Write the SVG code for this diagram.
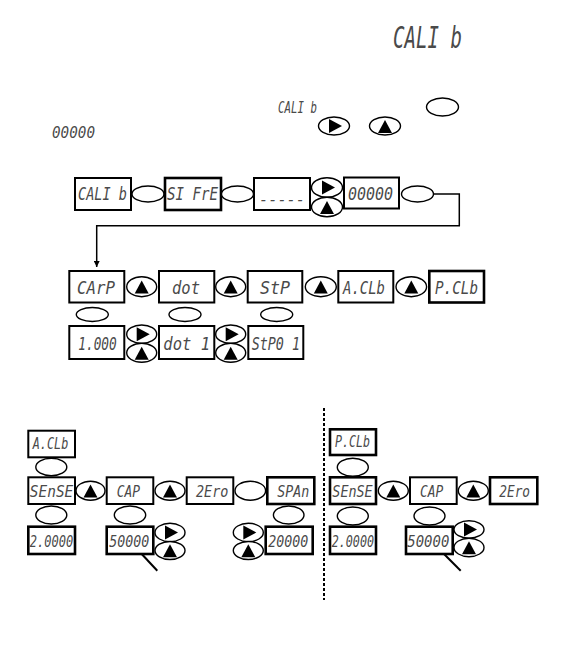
<svg xmlns="http://www.w3.org/2000/svg" width="567" height="652" viewBox="0 0 567 652">
<style>
.bx{fill:#fff;stroke:#000;stroke-width:2}
.bt{stroke-width:2.6}
.ov{fill:#fff;stroke:#000;stroke-width:1.4}
.seg{font-family:"DejaVu Sans Mono","Liberation Mono",monospace;font-style:italic;fill:#4a4a4a;text-anchor:start}
.s17{font-size:18.5px}
.s15{font-size:15.5px}
.ln{fill:none;stroke:#000;stroke-width:1.5}
</style>
<defs>
<polygon id="tu" points="-7,6 7,6 0,-7" fill="#000"/>
<polygon id="tr" points="-5,-7 -5,7 8,0" fill="#000"/>
<marker id="ah" viewBox="0 0 10 10" refX="10" refY="5" markerWidth="6" markerHeight="6" orient="auto" markerUnits="userSpaceOnUse"><path d="M0,0 L10,5 L0,10 z" fill="#000"/></marker>
</defs>
<rect width="567" height="652" fill="#fff"/>

<!-- top texts -->
<g id="title"><text class="seg" x="393" y="48.3" font-size="29.5" textLength="69" lengthAdjust="spacingAndGlyphs">CALI b</text></g>
<g id="intro">
<text class="seg" x="278" y="112.7" font-size="15.5" textLength="39" lengthAdjust="spacingAndGlyphs">CALI b</text>
<ellipse class="ov" cx="442.5" cy="107" rx="16" ry="9"/>
<ellipse class="ov" cx="334" cy="126" rx="15.5" ry="9"/><use href="#tr" x="334" y="126"/>
<ellipse class="ov" cx="385" cy="126" rx="15.5" ry="9"/><use href="#tu" x="385" y="127"/>
<text class="seg" x="52" y="138.3" font-size="15.5" textLength="43" lengthAdjust="spacingAndGlyphs">00000</text>
</g>

<!-- connectors -->
<g id="connectors">
<path class="ln" d="M433.5,194 H459.3 V225.7 H96.7 V267" marker-end="url(#ah)"/>
<line x1="141.7" y1="554" x2="157.3" y2="570.7" stroke="#000" stroke-width="2"/>
<line x1="444" y1="554" x2="460.7" y2="570.7" stroke="#000" stroke-width="2"/>
<line x1="324" y1="408" x2="324" y2="600" stroke="#000" stroke-width="2" stroke-dasharray="3,2"/>
</g>

<!-- row 1 -->
<g id="n-calib"><rect class="bx" x="75" y="178" width="56" height="32"/><text class="seg s17" x="78" y="200" textLength="49" lengthAdjust="spacingAndGlyphs">CALI b</text></g>
<g id="o1"><ellipse class="ov" cx="148" cy="194" rx="16" ry="8"/></g>
<g id="n-sifre"><rect class="bx bt" x="165" y="178" width="56" height="32"/><text class="seg s17" x="167" y="200" textLength="51" lengthAdjust="spacingAndGlyphs">SI FrE</text></g>
<g id="o2"><ellipse class="ov" cx="237.5" cy="194" rx="16" ry="8"/></g>
<g id="n-dash"><rect class="bx" x="254" y="178" width="56" height="32"/><text class="seg s17" x="259" y="204.5" textLength="46" lengthAdjust="spacingAndGlyphs">-----</text></g>
<g id="b1"><ellipse class="ov" cx="327" cy="187.5" rx="15.5" ry="9.8"/><use href="#tr" x="327" y="187.5"/><ellipse class="ov" cx="327" cy="207" rx="15.5" ry="9.8"/><use href="#tu" x="327" y="208"/></g>
<g id="n-zero"><rect class="bx" x="344" y="177.5" width="55" height="31"/><text class="seg s17" x="348" y="199.5" textLength="45" lengthAdjust="spacingAndGlyphs">00000</text></g>
<g id="o3"><ellipse class="ov" cx="417.5" cy="194" rx="16" ry="8"/></g>

<!-- row 2 -->
<g id="n-carp"><rect class="bx" x="69.3" y="271" width="55" height="31.5"/><text class="seg s17" x="77" y="293.5" textLength="38" lengthAdjust="spacingAndGlyphs">CArP</text></g>
<g id="u1"><ellipse class="ov" cx="141.7" cy="286.7" rx="15" ry="10"/><use href="#tu" x="141.7" y="287.5"/></g>
<g id="n-dot"><rect class="bx" x="159" y="271" width="55.3" height="31.5"/><text class="seg s17" x="172" y="293.5" textLength="28" lengthAdjust="spacingAndGlyphs">dot</text></g>
<g id="u2"><ellipse class="ov" cx="230.7" cy="286.7" rx="15" ry="10"/><use href="#tu" x="230.7" y="287.5"/></g>
<g id="n-stp"><rect class="bx" x="247.7" y="271" width="54.6" height="31.5"/><text class="seg s17" x="260" y="293.5" textLength="30" lengthAdjust="spacingAndGlyphs">StP</text></g>
<g id="u3"><ellipse class="ov" cx="320.8" cy="286.7" rx="15.5" ry="10"/><use href="#tu" x="320.8" y="287.5"/></g>
<g id="n-aclb"><rect class="bx" x="338.3" y="271" width="55" height="31.5"/><text class="seg s17" x="343" y="293.5" textLength="42" lengthAdjust="spacingAndGlyphs">A.CLb</text></g>
<g id="u4"><ellipse class="ov" cx="411.3" cy="286.7" rx="15.3" ry="10"/><use href="#tu" x="411.3" y="287.5"/></g>
<g id="n-pclb"><rect class="bx bt" x="429.3" y="271" width="54.7" height="31.5"/><text class="seg s17" x="435" y="293.5" textLength="43" lengthAdjust="spacingAndGlyphs">P.CLb</text></g>

<g id="o4"><ellipse class="ov" cx="92.3" cy="314.5" rx="16" ry="7"/></g>
<g id="o5"><ellipse class="ov" cx="185" cy="314.5" rx="16" ry="7"/></g>
<g id="o6"><ellipse class="ov" cx="276.7" cy="314.5" rx="16" ry="7"/></g>

<!-- row 3 -->
<g id="n-1000"><rect class="bx" x="69.3" y="326" width="55" height="33"/><text class="seg s17" x="78.3" y="349.5" textLength="38.4" lengthAdjust="spacingAndGlyphs">1.000</text></g>
<g id="b2"><ellipse class="ov" cx="141.7" cy="334.2" rx="15" ry="9.2"/><use href="#tr" x="141.7" y="334.2"/><ellipse class="ov" cx="141.7" cy="352.8" rx="15" ry="9.5"/><use href="#tu" x="141.7" y="353.8"/></g>
<g id="n-dot1"><rect class="bx" x="159" y="326" width="55.3" height="33"/><text class="seg s17" x="163.3" y="349.5" textLength="46.7" lengthAdjust="spacingAndGlyphs">dot  1</text></g>
<g id="b3"><ellipse class="ov" cx="230.7" cy="334.2" rx="15" ry="9.2"/><use href="#tr" x="230.7" y="334.2"/><ellipse class="ov" cx="230.7" cy="352.8" rx="15" ry="9.5"/><use href="#tu" x="230.7" y="353.8"/></g>
<g id="n-stp01"><rect class="bx" x="248.3" y="326" width="55" height="33"/><text class="seg s17" x="251.7" y="349.5" textLength="48.3" lengthAdjust="spacingAndGlyphs">StP0 1</text></g>

<!-- bottom left -->
<g id="n-aclb2"><rect class="bx" x="28.3" y="430.7" width="46.7" height="26.6"/><text class="seg s15" x="32.7" y="448.5" textLength="35.6" lengthAdjust="spacingAndGlyphs">A.CLb</text></g>
<g id="o7"><ellipse class="ov" cx="51.3" cy="467" rx="15.5" ry="8.8"/></g>
<g id="n-sense1"><rect class="bx" x="28.3" y="477.3" width="46.7" height="26.7"/><text class="seg s15" x="29.8" y="497" textLength="43.5" lengthAdjust="spacingAndGlyphs">SEnSE</text></g>
<g id="u5"><ellipse class="ov" cx="90.5" cy="490.7" rx="14.5" ry="9.5"/><use href="#tu" x="90.5" y="491.5"/></g>
<g id="n-cap1"><rect class="bx" x="106.7" y="477.3" width="46.6" height="26.7"/><text class="seg s15" x="116.7" y="497" textLength="23.3" lengthAdjust="spacingAndGlyphs">CAP</text></g>
<g id="u6"><ellipse class="ov" cx="170" cy="490.7" rx="15" ry="9.5"/><use href="#tu" x="170" y="491.5"/></g>
<g id="n-zero1"><rect class="bx" x="186.7" y="477.3" width="46.6" height="26.7"/><text class="seg s15" x="196" y="497" textLength="32.3" lengthAdjust="spacingAndGlyphs">2Ero</text></g>
<g id="o8"><ellipse class="ov" cx="250.3" cy="490.7" rx="15.3" ry="9.5"/></g>
<g id="n-span"><rect class="bx bt" x="267.3" y="477.3" width="47" height="26.7"/><text class="seg s15" x="277.3" y="497" textLength="32" lengthAdjust="spacingAndGlyphs">SPAn</text></g>

<g id="o9"><ellipse class="ov" cx="51.3" cy="515" rx="15.5" ry="9"/></g>
<g id="o10"><ellipse class="ov" cx="130" cy="515" rx="15.7" ry="9"/></g>
<g id="o11"><ellipse class="ov" cx="288.7" cy="515" rx="15.3" ry="9"/></g>

<g id="n-2p"><rect class="bx bt" x="28.3" y="526.7" width="46.7" height="27.3"/><text class="seg s15" x="29.8" y="547" textLength="43.5" lengthAdjust="spacingAndGlyphs">2.0000</text></g>
<g id="n-5k1"><rect class="bx bt" x="106.7" y="526.7" width="46.6" height="27.3"/><text class="seg s15" x="109.3" y="547" textLength="40" lengthAdjust="spacingAndGlyphs">50000</text></g>
<g id="b4"><ellipse class="ov" cx="170" cy="532.5" rx="15" ry="9.2"/><use href="#tr" x="170" y="532.5"/><ellipse class="ov" cx="170" cy="550.5" rx="15" ry="9"/><use href="#tu" x="170" y="551.3"/></g>
<g id="b5"><ellipse class="ov" cx="248.3" cy="532.5" rx="15" ry="9.2"/><use href="#tr" x="248.3" y="532.5"/><ellipse class="ov" cx="248.3" cy="550.5" rx="15" ry="9"/><use href="#tu" x="248.3" y="551.3"/></g>
<g id="n-20k"><rect class="bx bt" x="265.7" y="526.7" width="47" height="27.3"/><text class="seg s15" x="268.3" y="547" textLength="40" lengthAdjust="spacingAndGlyphs">20000</text></g>

<!-- bottom right -->
<g id="n-pclb2"><rect class="bx bt" x="330" y="429.3" width="46" height="25.7"/><text class="seg s15" x="335" y="447" textLength="35" lengthAdjust="spacingAndGlyphs">P.CLb</text></g>
<g id="o12"><ellipse class="ov" cx="352.8" cy="467.3" rx="15.5" ry="9"/></g>
<g id="n-sense2"><rect class="bx bt" x="330" y="477.3" width="46" height="26.7"/><text class="seg s15" x="332.3" y="497" textLength="40.4" lengthAdjust="spacingAndGlyphs">SEnSE</text></g>
<g id="u7"><ellipse class="ov" cx="393.3" cy="490.7" rx="15" ry="9.5"/><use href="#tu" x="393.3" y="491.5"/></g>
<g id="n-cap2"><rect class="bx" x="410" y="477.3" width="46.7" height="26.7"/><text class="seg s15" x="420" y="497" textLength="23.3" lengthAdjust="spacingAndGlyphs">CAP</text></g>
<g id="u8"><ellipse class="ov" cx="473.3" cy="490.7" rx="15" ry="9.5"/><use href="#tu" x="473.3" y="491.5"/></g>
<g id="n-zero2"><rect class="bx bt" x="490" y="477.3" width="47.3" height="26.7"/><text class="seg s15" x="499.3" y="497" textLength="30.7" lengthAdjust="spacingAndGlyphs">2Ero</text></g>

<g id="o13"><ellipse class="ov" cx="352.8" cy="516" rx="15.5" ry="9"/></g>
<g id="o14"><ellipse class="ov" cx="429.5" cy="516" rx="15.5" ry="9"/></g>

<g id="n-2p2"><rect class="bx bt" x="330" y="526.7" width="46" height="27.3"/><text class="seg s15" x="331.7" y="547" textLength="42.3" lengthAdjust="spacingAndGlyphs">2.0000</text></g>
<g id="n-5k2"><rect class="bx bt" x="406" y="526.7" width="46.7" height="27.3"/><text class="seg s15" x="407.3" y="547" textLength="42" lengthAdjust="spacingAndGlyphs">50000</text></g>
<g id="b6"><ellipse class="ov" cx="469" cy="529.5" rx="15" ry="8.8"/><use href="#tr" x="469" y="529.5"/><ellipse class="ov" cx="469" cy="547.5" rx="15" ry="9.2"/><use href="#tu" x="469" y="548.3"/></g>
</svg>
